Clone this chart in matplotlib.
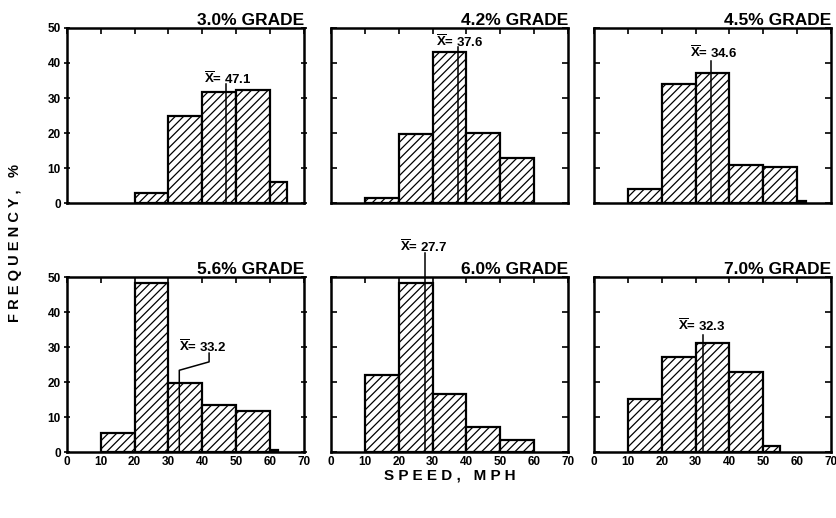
import matplotlib
matplotlib.use("Agg")
import matplotlib.pyplot as plt
import numpy as np

# speed distributions on each grade (percent of vehicles per speed class)
grades = ["3.0% GRADE", "4.2% GRADE", "4.5% GRADE",
          "5.6% GRADE", "6.0% GRADE", "7.0% GRADE"]
means = [47.1, 37.6, 34.6, 33.2, 27.7, 32.3]

edges_30 = [20, 30, 40, 50, 60, 65]
freq_30 = [3.0, 25.0, 31.7, 32.4, 6.0]

edges_42 = [10, 20, 30, 40, 50, 60]
freq_42 = [1.5, 19.7, 43.0, 20.0, 13.0]

edges_45 = [10, 20, 30, 40, 50, 60, 62.5]
freq_45 = [3.9, 34.1, 37.0, 10.8, 10.3, 0.5]

edges_56 = [10, 20, 30, 40, 50, 60, 62.5]
freq_56 = [5.6, 48.2, 19.8, 13.4, 11.8, 0.5]

edges_60 = [10, 20, 30, 40, 50, 60]
freq_60 = [22.0, 48.2, 16.6, 7.2, 3.4]

edges_70 = [10, 20, 30, 40, 50, 55]
freq_70 = [15.3, 27.2, 31.2, 22.9, 1.9]

all_edges = [edges_30, edges_42, edges_45, edges_56, edges_60, edges_70]
all_freq = [freq_30, freq_42, freq_45, freq_56, freq_60, freq_70]

# where each mean label sits (x, y in data units) and how high its line goes
label_xy = [(47.4, 35.6), (38.1, 46.0), (35.4, 42.8), (39.5, 30.0), (27.4, 58.7), (31.9, 36.0)]
line_top = [34.0, 44.6, 40.5, 23.4, 57.0, 33.6]

plt.rcParams["font.family"] = ["Liberation Sans", "DejaVu Sans"]
plt.rcParams["font.weight"] = "bold"
plt.rcParams["mathtext.fontset"] = "custom"
plt.rcParams["mathtext.rm"] = "Liberation Sans:bold"
plt.rcParams["mathtext.it"] = "Liberation Sans:bold"
plt.rcParams["hatch.linewidth"] = 0.9

fig = plt.figure(figsize=(8.36, 5.18), dpi=100)

lefts = [0.080, 0.396, 0.7105]
bottoms = [0.608, 0.127]
w, h = 0.2835, 0.338

for i in range(6):
    row, col = divmod(i, 3)
    ax = fig.add_axes([lefts[col], bottoms[row], w, h])
    e = np.array(all_edges[i])
    ax.bar(e[:-1], all_freq[i], width=np.diff(e), align="edge",
           facecolor="white", edgecolor="black", linewidth=1.6, hatch="////")

    m = means[i]
    lx, ly = label_xy[i]
    label = r"$\overline{\mathrm{X}}$" + "= {:.1f}".format(m)
    if i == 3:
        # bent leader for the 5.6% panel
        ax.plot([m, m, 42.0, 42.0], [0, line_top[i], 25.8, 28.3],
                color="black", lw=1.1, clip_on=False)
        ax.text(33.0, ly, label, ha="left", va="center", fontsize=9.5)
    else:
        ax.plot([m, m], [0, line_top[i]], color="black", lw=1.1, clip_on=False)
        ax.text(lx, ly, label, ha="center", va="center", fontsize=9.5, clip_on=False)

    ax.set_xlim(0, 70)
    ax.set_ylim(0, 50)
    for s in ax.spines.values():
        s.set_linewidth(1.8)

    ax.set_xticks(range(0, 71, 10))
    ax.set_yticks(range(0, 51, 10))
    ax.tick_params(axis="x", bottom=False, top=True, direction="in",
                   length=4, width=1.2, labelsize=8.5, pad=3)
    ax.tick_params(axis="y", left=True, right=True, direction="in",
                   length=4, width=1.2, labelsize=8.5, pad=2)
    if row == 0:
        ax.tick_params(labelbottom=False)
    if col != 0:
        ax.tick_params(labelleft=False)
    else:
        ax.tick_params(axis="y", direction="inout", length=5)

    ax.set_title(grades[i], loc="right", fontsize=12.5, fontweight="bold", pad=2)

fig.text(0.018, 0.53, "F R E Q U E N C Y ,   %", rotation=90,
         ha="center", va="center", fontsize=10.5, fontweight="bold")
fig.text(0.538, 0.083, "S P E E D ,   M P H", ha="center", va="center",
         fontsize=11, fontweight="bold")

fig.savefig("out.png", dpi=100, facecolor="white")
